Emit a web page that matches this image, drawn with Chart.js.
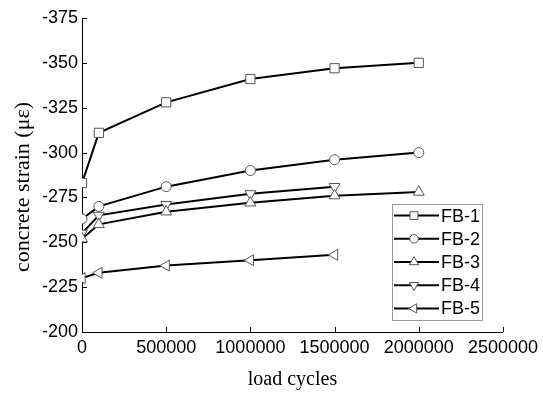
<!DOCTYPE html>
<html>
<head>
<meta charset="utf-8">
<script src="https://cdn.jsdelivr.net/npm/chart.js@4/dist/chart.umd.min.js"></script>
<style>
  html, body { margin: 0; padding: 0; background: #fff; }
  #wrap { width: 543px; height: 396px; }
</style>
</head>
<body>
<div id="wrap"><canvas id="c" width="543" height="396"></canvas></div>
<script>
// load cycles at which strain was read
const cycles = [0, 100000, 500000, 1000000, 1500000, 2000000];
const fb1 = [-283, -311, -328, -341, -347, -350];
const fb2 = [-263, -270, -281, -290, -296, -300];
const fb3 = [-252, -260, -267, -272, -276, -278];
const fb4 = [-255, -265, -271, -277, -281];
const fb5 = [-230, -233, -237, -240, -243];

const yTicks = [-375, -350, -325, -300, -275, -250, -225, -200];
const xTicks = [0, 500000, 1000000, 1500000, 2000000, 2500000];

const series = [
  { label: 'FB-1', values: fb1, style: 'rect', radius: 6.5, rot: 0 },
  { label: 'FB-2', values: fb2, style: 'circle', radius: 5, rot: 0 },
  { label: 'FB-3', values: fb3, style: 'triangle', radius: 6.3, rot: 0 },
  { label: 'FB-4', values: fb4, style: 'triangle', radius: 6.3, rot: 180 },
  { label: 'FB-5', values: fb5, style: 'triangle', radius: 6.3, rot: 270 },
];

const SANS = '"Liberation Sans", Arial, sans-serif';
const SERIF = '"Liberation Serif", "Times New Roman", serif';

const datasets = series.map((s) => ({
  label: s.label,
  data: s.values.map((v, i) => ({ x: cycles[i], y: v })),
  borderColor: '#000',
  borderWidth: 2,
  pointStyle: s.style,
  pointRadius: s.radius,
  pointRotation: s.rot,
  pointBackgroundColor: '#fff',
  pointBorderColor: '#555',
  pointBorderWidth: 1,
  tension: 0,
}));

// short ticks pointing into the plot area, plus the rotated y title
const axisExtras = {
  id: 'axisExtras',
  afterDraw(chart) {
    const { ctx, chartArea: a, scales: { x, y } } = chart;
    ctx.save();
    ctx.strokeStyle = '#000';
    ctx.lineWidth = 1;
    ctx.beginPath();
    for (const v of xTicks) {
      const px = Math.round(x.getPixelForValue(v)) + 0.5;
      ctx.moveTo(px, a.bottom);
      ctx.lineTo(px, a.bottom - 5);
    }
    for (const v of yTicks) {
      const py = Math.round(y.getPixelForValue(v)) + 0.5;
      ctx.moveTo(a.left, py);
      ctx.lineTo(a.left + 5, py);
    }
    ctx.stroke();

    ctx.translate(23, 187);
    ctx.rotate(-Math.PI / 2);
    ctx.fillStyle = '#000';
    ctx.font = `22px ${SERIF}`;
    ctx.textAlign = 'center';
    ctx.textBaseline = 'middle';
    ctx.fillText('concrete strain (με)', 0, 0);
    ctx.restore();
  }
};

// boxed legend in the lower right of the plot
const boxLegend = {
  id: 'boxLegend',
  afterDraw(chart) {
    const { ctx } = chart;
    const bx = 392, by = 204, bw = 90, bh = 116, row = bh / series.length;
    ctx.save();
    ctx.fillStyle = '#fff';
    ctx.fillRect(bx, by, bw, bh);
    ctx.strokeStyle = '#999';
    ctx.lineWidth = 1;
    ctx.strokeRect(bx + 0.5, by + 0.5, bw, bh);
    ctx.font = `18px ${SANS}`;
    ctx.textBaseline = 'middle';
    series.forEach((s, i) => {
      const cy = by + row * (i + 0.5);
      ctx.strokeStyle = '#000';
      ctx.lineWidth = 2;
      ctx.beginPath();
      ctx.moveTo(bx + 2, cy);
      ctx.lineTo(bx + 47, cy);
      ctx.stroke();
      ctx.fillStyle = '#fff';
      ctx.strokeStyle = '#555';
      ctx.lineWidth = 1;
      Chart.helpers.drawPoint(ctx, {
        pointStyle: s.style, radius: s.radius * 0.85, rotation: s.rot, borderWidth: 1
      }, bx + 22, cy);
      ctx.fillStyle = '#000';
      ctx.fillText(s.label, bx + 49, cy + 1);
    });
    ctx.restore();
  }
};

new Chart(document.getElementById('c'), {
  type: 'line',
  data: { datasets },
  options: {
    responsive: false,
    animation: false,
    layout: { padding: { left: 0, right: 39, top: 18, bottom: 0 } },
    plugins: { legend: { display: false }, tooltip: { enabled: false } },
    scales: {
      x: {
        type: 'linear',
        min: 0,
        max: 2500000,
        afterBuildTicks: (s) => { s.ticks = xTicks.map((v) => ({ value: v })); },
        afterFit: (s) => { s.height = 64; },
        grid: { display: false, drawTicks: false },
        border: { display: true, color: '#000', width: 1 },
        ticks: {
          color: '#000', font: { family: SANS, size: 18 }, padding: 5, maxRotation: 0,
          callback: (v) => String(v),
        },
        title: { display: true, text: 'load cycles', color: '#000', font: { family: SERIF, size: 20 }, padding: { top: 4, bottom: 4 } },
      },
      y: {
        reverse: true,
        min: -375,
        max: -200,
        afterBuildTicks: (s) => { s.ticks = yTicks.map((v) => ({ value: v })); },
        afterFit: (s) => { s.width = 82; },
        grid: { display: false, drawTicks: false },
        border: { display: true, color: '#000', width: 1 },
        ticks: { color: '#000', font: { family: SANS, size: 18 }, padding: 4, callback: (v) => String(v) },
      },
    },
  },
  plugins: [axisExtras, boxLegend],
});
</script>
</body>
</html>
